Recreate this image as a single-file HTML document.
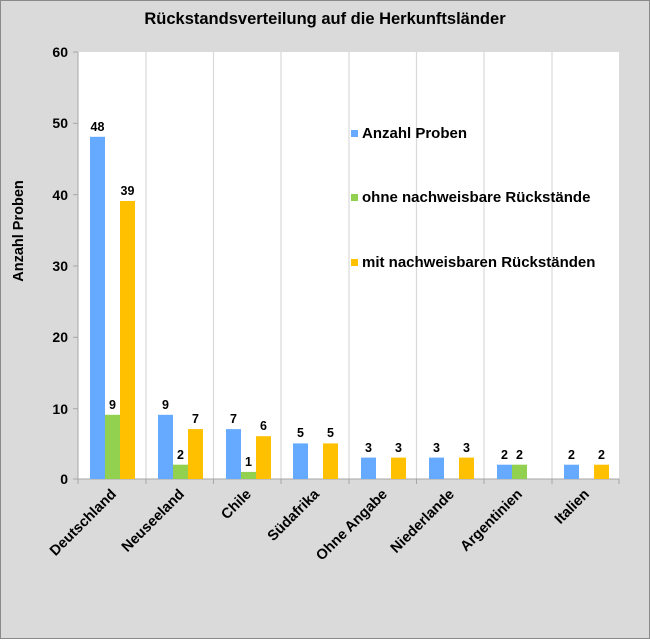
<!DOCTYPE html><html><head><style>body{margin:0;background:#fff}</style></head><body>
<svg width="650" height="639" xmlns="http://www.w3.org/2000/svg" font-family="Liberation Sans, Arial, sans-serif" font-weight="bold">
<rect x="0.5" y="0.5" width="649" height="638" fill="#d9dad9" stroke="#8a8a8a"/>
<text x="325" y="24" text-anchor="middle" font-size="16.5" fill="#000">Rückstandsverteilung auf die Herkunftsländer</text>
<rect x="78" y="52" width="541" height="427" fill="#fff"/>
<g stroke="#d9d9d9" stroke-width="1.2">
<line x1="146" y1="52" x2="146" y2="479"/><line x1="213.5" y1="52" x2="213.5" y2="479"/><line x1="281" y1="52" x2="281" y2="479"/><line x1="349" y1="52" x2="349" y2="479"/><line x1="416.5" y1="52" x2="416.5" y2="479"/><line x1="484" y1="52" x2="484" y2="479"/><line x1="552" y1="52" x2="552" y2="479"/>
</g>
<g stroke="#a6a6a6"><line x1="78" y1="52" x2="78" y2="479"/><line x1="78" y1="479" x2="619" y2="479"/>
<line x1="73" y1="52" x2="78" y2="52"/><line x1="73" y1="123.3" x2="78" y2="123.3"/><line x1="73" y1="194.7" x2="78" y2="194.7"/><line x1="73" y1="266" x2="78" y2="266"/><line x1="73" y1="337.3" x2="78" y2="337.3"/><line x1="73" y1="408.7" x2="78" y2="408.7"/><line x1="73" y1="479" x2="78" y2="479"/>
<line x1="78" y1="479" x2="78" y2="484"/><line x1="146" y1="479" x2="146" y2="484"/><line x1="213.5" y1="479" x2="213.5" y2="484"/><line x1="281" y1="479" x2="281" y2="484"/><line x1="349" y1="479" x2="349" y2="484"/><line x1="416.5" y1="479" x2="416.5" y2="484"/><line x1="484" y1="479" x2="484" y2="484"/><line x1="552" y1="479" x2="552" y2="484"/><line x1="619" y1="479" x2="619" y2="484"/></g>
<g font-size="14" text-anchor="end" fill="#000">
<text x="68" y="57">60</text><text x="68" y="128">50</text><text x="68" y="200">40</text><text x="68" y="271">30</text><text x="68" y="342">20</text><text x="68" y="414">10</text><text x="68" y="484">0</text></g>
<text transform="translate(23,231) rotate(-90)" text-anchor="middle" font-size="14.5">Anzahl Proben</text>
<g>
<rect x="90" y="136.8" width="15" height="342.2" fill="#66aaff"/><rect x="105" y="414.8" width="15" height="64.2" fill="#92d050"/><rect x="120" y="201" width="15" height="278" fill="#ffc000"/>
<rect x="158" y="414.8" width="15" height="64.2" fill="#66aaff"/><rect x="173" y="464.7" width="15" height="14.3" fill="#92d050"/><rect x="188" y="429.1" width="15" height="49.9" fill="#ffc000"/>
<rect x="226" y="429.1" width="15" height="49.9" fill="#66aaff"/><rect x="241" y="471.9" width="15" height="7.1" fill="#92d050"/><rect x="256" y="436.2" width="15" height="42.8" fill="#ffc000"/>
<rect x="293" y="443.4" width="15" height="35.6" fill="#66aaff"/><rect x="323" y="443.4" width="15" height="35.6" fill="#ffc000"/>
<rect x="361" y="457.6" width="15" height="21.4" fill="#66aaff"/><rect x="391" y="457.6" width="15" height="21.4" fill="#ffc000"/>
<rect x="429" y="457.6" width="15" height="21.4" fill="#66aaff"/><rect x="459" y="457.6" width="15" height="21.4" fill="#ffc000"/>
<rect x="497" y="464.7" width="15" height="14.3" fill="#66aaff"/><rect x="512" y="464.7" width="15" height="14.3" fill="#92d050"/>
<rect x="564" y="464.7" width="15" height="14.3" fill="#66aaff"/><rect x="594" y="464.7" width="15" height="14.3" fill="#ffc000"/>
</g>
<g font-size="12.5" text-anchor="middle">
<text x="97.5" y="131">48</text><text x="112.5" y="409">9</text><text x="127.5" y="195">39</text>
<text x="165.5" y="409">9</text><text x="180.5" y="459">2</text><text x="195.5" y="423">7</text>
<text x="233.5" y="423">7</text><text x="248.5" y="466">1</text><text x="263.5" y="430">6</text>
<text x="300.5" y="437">5</text><text x="330.5" y="437">5</text>
<text x="368.5" y="452">3</text><text x="398.5" y="452">3</text>
<text x="436.5" y="452">3</text><text x="466.5" y="452">3</text>
<text x="504.5" y="459">2</text><text x="519.5" y="459">2</text>
<text x="571.5" y="459">2</text><text x="601.5" y="459">2</text></g>
<g font-size="15">
<rect x="351" y="130" width="7" height="7" fill="#66aaff"/><text x="362" y="138">Anzahl Proben</text>
<rect x="351" y="194" width="7" height="7" fill="#92d050"/><text x="362" y="202">ohne nachweisbare Rückstände</text>
<rect x="351" y="259" width="7" height="7" fill="#ffc000"/><text x="362" y="267">mit nachweisbaren Rückständen</text></g>
<g font-size="14.5" text-anchor="end">
<text transform="translate(117,495) rotate(-45)">Deutschland</text>
<text transform="translate(185,495) rotate(-45)">Neuseeland</text>
<text transform="translate(252,495) rotate(-45)">Chile</text>
<text transform="translate(320,495) rotate(-45)">Südafrika</text>
<text transform="translate(388,495) rotate(-45)">Ohne Angabe</text>
<text transform="translate(455,495) rotate(-45)">Niederlande</text>
<text transform="translate(523,495) rotate(-45)">Argentinien</text>
<text transform="translate(590,495) rotate(-45)">Italien</text></g>
</svg></body></html>
